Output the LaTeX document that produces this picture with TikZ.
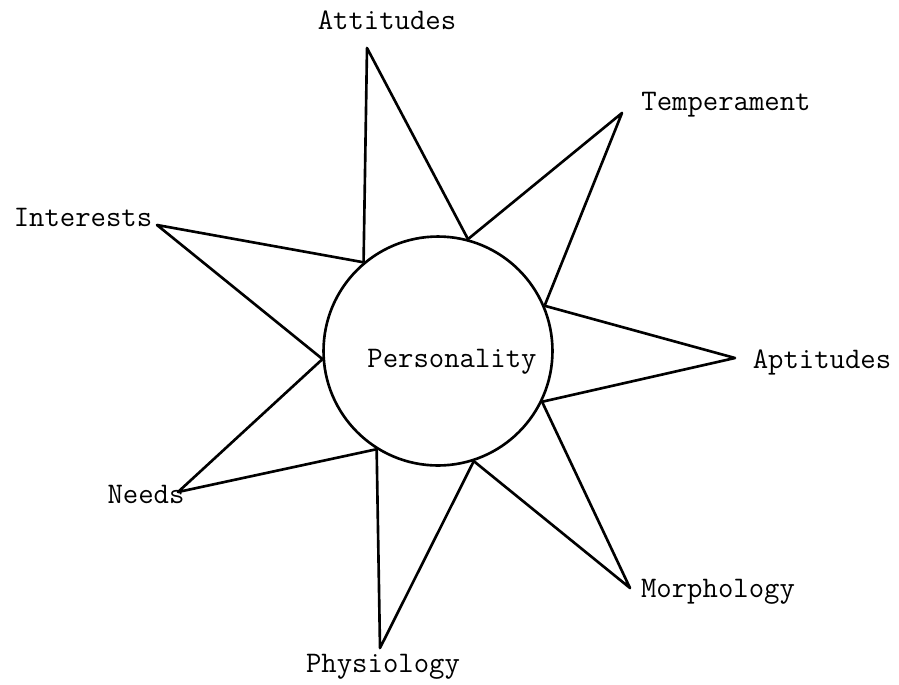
\documentclass[tikz,border=0pt]{standalone}
\usepackage{tikz}
\begin{document}
\begin{tikzpicture}[x=0.02cm, y=-0.02cm, line width=1.5pt, line join=round,
  every node/.style={font=\fontsize{17}{20}\selectfont\ttfamily},
  hub/.style={draw, circle, minimum size=4.58cm, inner sep=0pt}]
  % Frame of the page
  \useasboundingbox (0,0) rectangle (899,684);
  % Centre circle
  \node[hub] (P) at (438,351) {};
  \node (pers) at (452,362) {Personality};
  % Labels
  \node (att) at (387,20) {Attitudes};
  \node (tem) at (726,105) {Temperament};
  \node (apt) at (822,362) {Aptitudes};
  \node (mor) at (718,592) {Morphology};
  \node (phy) at (383,667) {Physiology};
  \node (nee) at (146,494) {Needs};
  \node (int) at (83,217) {Interests};
  % Tips of the rays
  \coordinate (attT) at (367,48);
  \coordinate (temT) at (622,113);
  \coordinate (aptT) at (735,358);
  \coordinate (morT) at (630,588);
  \coordinate (phyT) at (380,648);
  \coordinate (neeT) at (178,492);
  \coordinate (intT) at (157,225);
  % Rays
  \draw (P.130) -- (attT) -- (P.75);
  \draw (P.75) -- (temT) -- (P.23);
  \draw (P.23) -- (aptT) -- (P.-26);
  \draw (P.-26) -- (morT) -- (P.-72);
  \draw (P.-72) -- (phyT) -- (P.-122);
  \draw (P.-122) -- (neeT) -- (P.184);
  \draw (P.184) -- (intT) -- (P.130);
\end{tikzpicture}
\end{document}
